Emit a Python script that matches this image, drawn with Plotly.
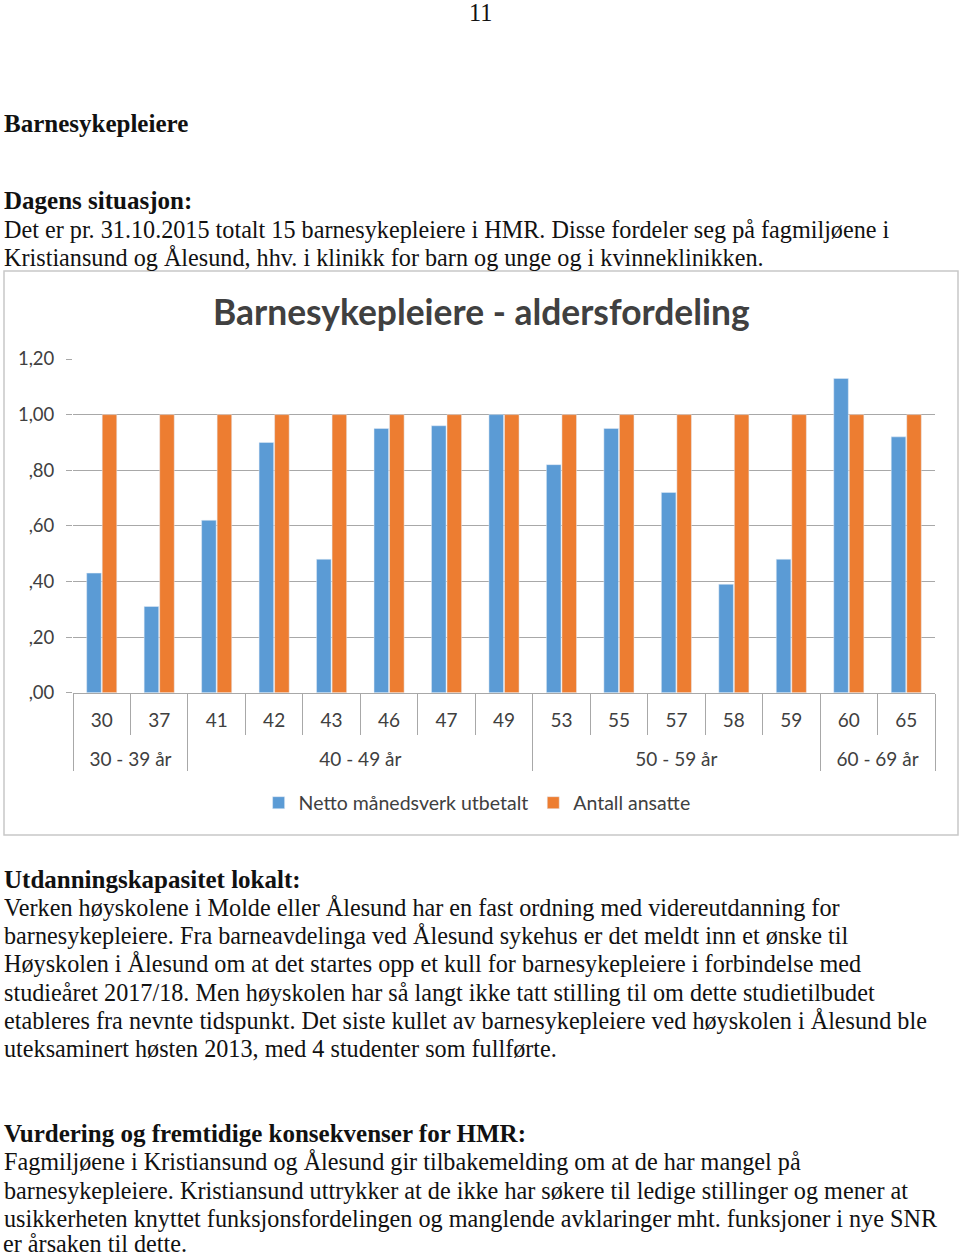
import plotly.graph_objects as go

groups = ["<br>30 - 39 år"] * 2 + ["<br>40 - 49 år"] * 6 + ["<br>50 - 59 år"] * 5 + ["<br>60 - 69 år"] * 2
ages = ["30", "37", "41", "42", "43", "46", "47", "49", "53", "55", "57", "58", "59", "60", "65"]
netto = [0.43, 0.31, 0.62, 0.90, 0.48, 0.95, 0.96, 1.00, 0.82, 0.95, 0.72, 0.39, 0.48, 1.13, 0.92]
antall = [1.00] * 15
y_ticks = [0, 0.2, 0.4, 0.6, 0.8, 1.0, 1.2]
y_ticktext = [",00", ",20", ",40", ",60", ",80", "1,00", "1,20"]

W, H = 960, 1258
SANS = "Lato, Calibri, Carlito, sans-serif"
SERIF = "Liberation Serif, Times New Roman, serif"
GRID = "#a8a8a8"

fig = go.Figure()
fig.add_trace(go.Bar(x=[groups, ages], y=netto, name="Netto månedsverk utbetalt",
                     marker=dict(color="#5B9BD5")))
fig.add_trace(go.Bar(x=[groups, ages], y=antall, name="Antall ansatte",
                     marker=dict(color="#ED7D31")))

def py(p):
    return 1 - p / H

def px(p):
    return p / W

fig.update_layout(
    width=W, height=H, autosize=False,
    margin=dict(l=0, r=0, t=0, b=0, pad=0),
    paper_bgcolor="white", plot_bgcolor="white",
    barmode="group", bargap=0.46, bargroupgap=0.06,
    font=dict(family=SANS, color="#404040", size=18),
    showlegend=True,
    legend=dict(orientation="h", x=0.497, xanchor="center", y=py(803), yanchor="middle",
                font=dict(family=SANS, size=19.5, color="#404040"), itemwidth=30),
    xaxis=dict(domain=[px(73), px(935)], type="multicategory", automargin=False,
               showline=True, linecolor=GRID, linewidth=1,
               ticks="outside", tickson="boundaries", ticklen=41, tickcolor=GRID,
               ticklabelstandoff=10,
               showdividers=True, dividercolor=GRID, dividerwidth=1,
               tickfont=dict(family=SANS, size=19, color="#404040"),
               showgrid=False),
    yaxis=dict(domain=[py(692.7), py(359)], range=[0, 1.2], automargin=False,
               tickvals=y_ticks, ticktext=y_ticktext,
               showgrid=True, gridcolor=GRID, gridwidth=1,
               zeroline=False, showline=False,
               ticks="outside", ticklen=6, tickcolor=GRID, ticklabelstandoff=8,
               tickfont=dict(family=SANS, size=18.5, color="#404040")),
)

# chart frame
fig.add_shape(type="rect", xref="paper", yref="paper",
              x0=px(4), x1=px(958), y0=py(835), y1=py(271),
              line=dict(color="#c8c8c8", width=1.5), fillcolor="rgba(0,0,0,0)", layer="below")

# chart title
fig.add_annotation(text="<b>Barnesykepleiere - aldersfordeling</b>", xref="paper", yref="paper",
                   x=px(481), y=py(311), xanchor="center", yanchor="middle", showarrow=False,
                   font=dict(family=SANS, size=35.4, color="#404040"))

# page text
page_lines = [
    (480, 12, "11", False, "center"),
    (2, 123, "Barnesykepleiere", True, "left"),
    (2, 200, "Dagens situasjon:", True, "left"),
    (2, 229, "Det er pr. 31.10.2015 totalt 15 barnesykepleiere i HMR. Disse fordeler seg på fagmiljøene i", False, "left"),
    (2, 257, "Kristiansund og Ålesund, hhv. i klinikk for barn og unge og i kvinneklinikken.", False, "left"),
    (2, 879, "Utdanningskapasitet lokalt:", True, "left"),
    (2, 907, "Verken høyskolene i Molde eller Ålesund har en fast ordning med videreutdanning for", False, "left"),
    (2, 935, "barnesykepleiere. Fra barneavdelinga ved Ålesund sykehus er det meldt inn et ønske til", False, "left"),
    (2, 963, "Høyskolen i Ålesund om at det startes opp et kull for barnesykepleiere i forbindelse med", False, "left"),
    (2, 992, "studieåret 2017/18. Men høyskolen har så langt ikke tatt stilling til om dette studietilbudet", False, "left"),
    (2, 1020, "etableres fra nevnte tidspunkt. Det siste kullet av barnesykepleiere ved høyskolen i Ålesund ble", False, "left"),
    (2, 1048, "uteksaminert høsten 2013, med 4 studenter som fullførte.", False, "left"),
    (2, 1133, "Vurdering og fremtidige konsekvenser for HMR:", True, "left"),
    (2, 1161, "Fagmiljøene i Kristiansund og Ålesund gir tilbakemelding om at de har mangel på", False, "left"),
    (2, 1190, "barnesykepleiere. Kristiansund uttrykker at de ikke har søkere til ledige stillinger og mener at", False, "left"),
    (2, 1218, "usikkerheten knyttet funksjonsfordelingen og manglende avklaringer mht. funksjoner i nye SNR", False, "left"),
]
for x, y, t, bold, anc in page_lines:
    fig.add_annotation(text=f"<b>{t}</b>" if bold else t, xref="paper", yref="paper",
                       x=px(x), y=py(y), xanchor=anc, yanchor="middle", showarrow=False,
                       font=dict(family=SERIF, size=25 if bold else 24.2, color="#111111"))

# last line, kept fully inside the page
fig.add_annotation(text="er årsaken til dette.", xref="paper", yref="paper",
                   x=px(2), y=0, xanchor="left", yanchor="bottom", showarrow=False, borderpad=0,
                   font=dict(family=SERIF, size=24.2, color="#111111"))

post = (
    "document.documentElement.style.overflow='hidden';"
    "document.body.style.margin='0';document.body.style.overflow='hidden';"
    "document.body.style.height='1258px';"
    "var d=document.getElementById('{plot_id}');"
    "d.style.position='absolute';d.style.top='0px';d.style.left='0px';"
)
fig.write_html("out.html", config={"displayModeBar": False}, post_script=post)
